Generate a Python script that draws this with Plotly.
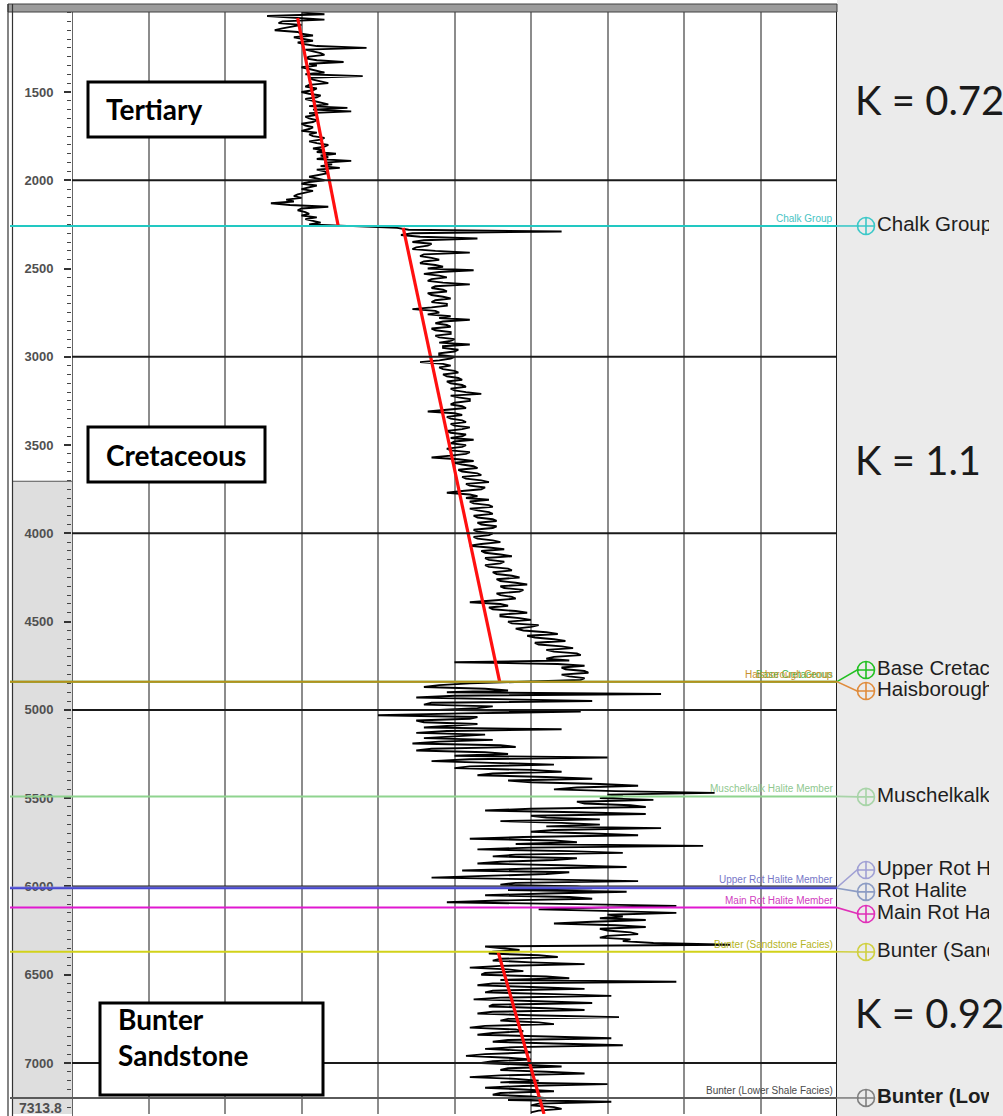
import plotly.graph_objects as go

W, H = 1003, 1116

# ---------------- data ----------------
DEPTH_TOP = 1047
DEPTH_BOTTOM = 7289
TD_LABEL = "7313.8"
MAJOR_DEPTH_LINES = [2000, 3000, 4000, 5000, 6000, 7000]
DEPTH_SHADE_TOP = 3705

LOG_STEP = 10
# Tertiary section, from 1050 m
LOG_A_TOP = 1050
LOG_A = [3.0, 3.3, 2.55, 2.9, 3.3, 2.75, 2.7, 3.0, 2.85, 2.75,
         2.65, 2.95, 3.0, 3.15, 2.9, 3.05, 3.15, 2.95, 3.05, 3.2,
         3.85, 3.05, 3.15, 3.25, 3.3, 3.1, 3.05, 3.2, 3.55, 3.1,
         3.2, 3.0, 3.1, 3.2, 3.3, 3.05, 3.8, 3.1, 3.15, 3.25,
         3.35, 3.1, 3.05, 3.2, 3.15, 3.0, 3.1, 3.25, 3.2, 3.05,
         3.15, 3.25, 3.35, 3.1, 3.6, 3.15, 3.65, 3.1, 3.2, 3.05,
         3.1, 3.2, 3.15, 3.0, 3.05, 3.15, 3.1, 3.0, 3.2, 3.1,
         3.15, 3.3, 3.25, 3.1, 3.2, 3.35, 3.3, 3.15, 3.3, 3.2,
         3.45, 3.25, 3.35, 3.2, 3.65, 3.3, 3.4, 3.25, 3.5, 3.2,
         3.3, 3.35, 3.2, 3.1, 3.2, 3.3, 3.1, 3.0, 3.2, 3.1,
         3.0, 3.15, 3.05, 2.95, 2.9, 3.0, 2.8, 2.9, 2.6, 2.85,
         3.35, 3.0, 2.95, 3.05, 3.1, 3.0, 3.2, 3.05, 3.15, 3.25,
         3.1]
# Cretaceous section, from 2270 m
LOG_B_TOP = 2270
LOG_B = [4.25, 4.4, 6.4, 4.45, 4.3, 4.55, 5.3, 4.6, 4.45, 4.7,
         4.65, 4.5, 4.45, 4.75, 5.2, 4.6, 4.55, 4.7, 4.8, 4.6,
         4.55, 4.75, 4.85, 4.65, 5.25, 4.8, 4.6, 4.8, 4.9, 4.7,
         4.65, 4.85, 5.2, 4.75, 4.7, 4.85, 4.9, 4.65, 4.7, 4.85,
         4.95, 4.75, 4.7, 4.9, 4.9, 4.7, 4.45, 4.75, 4.8, 4.65,
         4.95, 4.8, 5.2, 4.85, 4.75, 4.9, 4.95, 4.7, 4.75, 4.95,
         4.95, 4.75, 4.8, 5.0, 4.95, 4.8, 5.2, 4.85, 4.85, 5.05,
         5.0, 4.8, 4.8, 5.0, 4.95, 4.8, 4.55, 4.85, 4.95, 4.8,
         4.85, 5.0, 5.05, 4.85, 4.9, 5.05, 5.1, 4.9, 4.95, 5.1,
         5.15, 4.95, 5.0, 5.15, 5.35, 4.95, 5.05, 5.2, 5.2, 5.0,
         4.95, 5.1, 5.15, 4.9, 4.65, 5.0, 5.1, 4.9, 4.95, 5.1,
         5.15, 4.95, 5.0, 5.2, 5.1, 4.9, 4.95, 5.15, 5.1, 4.95,
         5.25, 5.0, 4.95, 5.15, 5.1, 4.9, 4.95, 5.2, 5.15, 4.95,
         4.7, 5.05, 5.25, 5.0, 5.1, 5.25, 5.3, 5.05, 5.1, 5.3,
         5.35, 5.1, 5.15, 5.35, 5.45, 5.15, 5.2, 5.4, 5.35, 5.1,
         4.9, 5.2, 5.3, 5.15, 5.45, 5.2, 5.25, 5.45, 5.5, 5.2,
         5.3, 5.45, 5.5, 5.25, 5.3, 5.5, 5.55, 5.3, 5.35, 5.55,
         5.5, 5.25, 5.3, 5.5, 5.45, 5.25, 5.3, 5.5, 5.6, 5.35,
         5.2, 5.45, 5.65, 5.35, 5.4, 5.6, 5.75, 5.4, 5.45, 5.65,
         5.6, 5.4, 5.45, 5.7, 5.75, 5.5, 5.55, 5.75, 5.85, 5.55,
         5.6, 5.8, 5.95, 5.6, 5.65, 5.9, 5.85, 5.55, 5.6, 5.75,
         5.8, 5.5, 5.2, 5.6, 5.7, 5.45, 5.5, 5.8, 5.95, 5.6,
         5.6, 5.85, 6.0, 5.7, 5.75, 6.1, 6.0, 5.8, 5.9, 6.2,
         6.35, 5.95, 6.05, 6.3, 6.45, 6.05, 6.1, 6.4, 6.55, 6.2,
         6.3, 6.6, 6.65, 6.3, 6.2, 6.5, 5.0, 6.35, 6.7, 6.4,
         6.45, 6.7, 6.75, 6.4, 6.5, 6.7, 6.65]
# Triassic (Haisborough to Rot Halite), from 4850 m
LOG_C_TOP = 4850
LOG_C = [5.2, 4.8, 4.6, 5.4, 5.7, 4.9, 7.7, 5.0, 4.5, 5.6,
         6.8, 4.7, 4.6, 5.5, 5.3, 4.8, 6.65, 5.1, 4.0, 5.3,
         5.2, 4.5, 4.6, 5.3, 5.0, 4.6, 6.4, 4.9, 4.5, 5.4,
         5.0, 4.6, 5.5, 4.8, 4.45, 5.6, 5.8, 4.7, 4.5, 5.4,
         5.7, 5.0, 7.0, 5.2, 4.7, 5.6, 6.3, 5.2, 5.0, 6.0,
         6.4, 5.5, 5.3, 6.2, 6.8, 5.7, 6.0, 6.9, 7.4, 6.6,
         6.3, 7.1, 8.4, 7.0, 7.2, 6.9, 7.6, 6.6, 6.7, 7.3,
         7.5, 6.0, 5.4, 6.6, 7.5, 6.0, 6.2, 6.9, 5.6, 6.4,
         6.9, 6.2, 7.7, 6.3, 6.0, 6.8, 7.4, 5.9, 5.2, 6.3,
         6.6, 5.8, 8.25, 6.0, 5.3, 6.5, 7.2, 5.8, 5.5, 6.6,
         6.3, 5.6, 5.3, 6.4, 7.25, 5.9, 5.1, 6.5, 6.2, 5.4,
         4.7, 6.1, 7.4, 5.8, 5.6, 6.6, 6.8, 5.7, 7.25, 6.2,
         5.4, 6.5, 6.8, 5.6, 4.9, 6.6, 7.9, 6.9, 6.1, 7.1,
         7.9, 7.0, 7.2, 6.9, 7.5, 6.8, 6.3, 7.1, 7.5, 6.9,
         7.0, 7.3, 7.4, 7.0, 6.9, 7.3, 7.2, 7.6, 8.6]
# Bunter Sandstone, from 6340 m
LOG_D_TOP = 6340
LOG_D = [5.4, 5.6, 5.85, 5.5, 5.45, 6.1, 6.35, 5.6, 5.5, 6.0,
         6.7, 5.6, 5.2, 5.7, 5.9, 5.4, 5.35, 6.2, 6.5, 5.6,
         7.9, 5.5, 5.3, 6.0, 6.7, 5.5, 5.4, 6.3, 7.05, 5.6,
         5.25, 6.1, 6.8, 5.5, 5.45, 6.2, 6.7, 5.5, 5.3, 6.0,
         7.15, 5.7, 5.6, 6.1, 6.3, 5.4, 5.2, 5.8, 5.9, 5.5,
         5.3, 6.2, 7.05, 5.7, 5.5, 6.3, 7.2, 5.8, 5.4, 5.9,
         6.0, 5.4, 5.15, 5.7, 6.0, 5.5, 5.35, 5.9, 6.4, 5.7,
         5.6, 6.2, 6.7, 5.6, 5.2, 5.8, 6.1, 5.6, 7.0, 5.9,
         5.4, 5.9, 6.3, 5.6, 5.5, 6.0, 6.2, 5.7, 7.05, 6.1,
         6.0, 6.3, 6.4, 6.1, 6.0]

TREND_DEPTHS = [[1081, 2259], [2270, 4840], [6370, 7289]]
TREND_VALUES = [[2.95, 3.48], [4.33, 5.59], [5.57, 6.17]]
UNIT_NAMES = ["Tertiary", "Cretaceous", "Bunter<br>Sandstone"]
K_LABELS = ["K = 0.72", "K = 1.1", "K = 0.92"]

TOP_NAMES = ["Chalk Group", "Base Cretaceous", "Haisborough Group",
             "Muschelkalk Halite Member", "Upper Rot Halite Member", "Rot Halite",
             "Main Rot Halite Member", "Bunter (Sandstone Facies)",
             "Bunter (Lower Shale Facies)"]
TOP_DEPTHS = [2259, 4840, 4840, 5490, 6006, 6010, 6120, 6370, 7198]
TOP_LABEL_DEPTHS = [2259, 4774, 4893, 5493, 5907, 6031, 6156, 6371, 7198]
TOP_LINE_COLORS = ["#22c8c2", "#3cb43c", "#b8901c", "#8fd48f", "#8f8fe0",
                   "#4848d0", "#e018d0", "#d2d21a", "#5a5a5a"]
TOP_MARK_COLORS = ["#3cc8c8", "#22c022", "#e08c3c", "#a8d4a8", "#a0a0d4",
                   "#8c9cc4", "#e030b8", "#d0d040", "#808080"]
TOP_SMALL_COLORS = ["#48c4c4", "#48b448", "#c8902c", "#90c890", "#7878c8",
                    None, "#d040c0", "#b4b424", "#4a4a4a"]

# ---------------- helpers (layout positions) ----------------
def px(x):
    return x / W


def py(y):
    return 1 - y / H


def depths_for(top, values):
    return [top + i * LOG_STEP for i in range(len(values))]


log_depth = (depths_for(LOG_A_TOP, LOG_A) + depths_for(LOG_B_TOP, LOG_B)
             + depths_for(LOG_C_TOP, LOG_C) + depths_for(LOG_D_TOP, LOG_D))
log_value = LOG_A + LOG_B + LOG_C + LOG_D

fig = go.Figure()

fig.add_trace(go.Scatter(x=log_value, y=log_depth, mode="lines",
                         line=dict(color="black", width=1.9),
                         hoverinfo="skip", showlegend=False))

for d, v in zip(TREND_DEPTHS, TREND_VALUES):
    fig.add_trace(go.Scatter(x=v, y=d, mode="lines",
                             line=dict(color="#ff1010", width=3.2),
                             hoverinfo="skip", showlegend=False))

# right panel: connectors, markers, labels
for d, ld, c in zip(TOP_DEPTHS, TOP_LABEL_DEPTHS, TOP_MARK_COLORS):
    fig.add_trace(go.Scatter(x=[0, 20, 22], y=[d, ld, ld], mode="lines",
                             line=dict(color=c, width=1.6), xaxis="x2", yaxis="y",
                             hoverinfo="skip", showlegend=False))

fig.add_trace(go.Scatter(x=[29] * len(TOP_NAMES), y=TOP_LABEL_DEPTHS, mode="markers",
                         marker=dict(symbol="circle-cross-open", size=17,
                                     color=TOP_MARK_COLORS, line=dict(width=1.6)),
                         xaxis="x2", yaxis="y", hoverinfo="skip", showlegend=False))

panel_text = [n if i < len(TOP_NAMES) - 1 else "<b>" + n + "</b>"
              for i, n in enumerate(TOP_NAMES)]
fig.add_trace(go.Scatter(x=[40] * len(TOP_NAMES), y=TOP_LABEL_DEPTHS, mode="text",
                         text=panel_text, textposition="middle right",
                         textfont=dict(family="Liberation Sans, Arial", size=20.5,
                                       color="#1e1e1e"),
                         cliponaxis=True, xaxis="x2", yaxis="y",
                         hoverinfo="skip", showlegend=False))

shapes = []
# right panel background
shapes.append(dict(type="rect", xref="paper", yref="paper", x0=px(837), x1=1,
                   y0=0, y1=1, fillcolor="#ebebeb", line=dict(width=0), layer="below"))
# depth track shading
shapes.append(dict(type="rect", xref="paper", yref="y", x0=px(12.5), x1=px(72),
                   y0=DEPTH_SHADE_TOP, y1=DEPTH_BOTTOM, fillcolor="#dedede",
                   line=dict(width=0), layer="below"))
shapes.append(dict(type="line", xref="paper", yref="y", x0=px(12.5), x1=px(72),
                   y0=DEPTH_SHADE_TOP, y1=DEPTH_SHADE_TOP,
                   line=dict(color="#555", width=1.2)))
# header band
shapes.append(dict(type="rect", xref="paper", yref="paper", x0=px(8), x1=px(837),
                   y0=py(12), y1=py(4), fillcolor="#9c9c9c",
                   line=dict(color="#404040", width=1)))
# left borders
for xx in (8, 12.5):
    shapes.append(dict(type="line", xref="paper", yref="paper", x0=px(xx), x1=px(xx),
                       y0=0, y1=py(4), line=dict(color="#333", width=1.2)))
# track borders
shapes.append(dict(type="line", xref="x", yref="paper", x0=0, x1=0, y0=0, y1=py(12),
                   line=dict(color="#333", width=1.5)))
shapes.append(dict(type="line", xref="x", yref="paper", x0=10, x1=10, y0=0, y1=py(12),
                   line=dict(color="#222", width=2)))
# major depth lines
for d in MAJOR_DEPTH_LINES:
    shapes.append(dict(type="line", xref="x", yref="y", x0=0, x1=10, y0=d, y1=d,
                       line=dict(color="#1a1a1a", width=2)))
# formation tops
for d, c in zip(TOP_DEPTHS, TOP_LINE_COLORS):
    shapes.append(dict(type="line", xref="paper", yref="y", x0=px(10), x1=px(837),
                       y0=d, y1=d, line=dict(color=c, width=2)))
# unit boxes
BOXES = [(88, 265, 82, 137), (88, 265, 427, 482), (100, 323, 1003, 1095)]
for x0, x1, y0, y1 in BOXES:
    shapes.append(dict(type="rect", xref="paper", yref="paper", x0=px(x0), x1=px(x1),
                       y0=py(y1), y1=py(y0), fillcolor="white",
                       line=dict(color="black", width=3)))

annotations = []
annotations.append(dict(text=TD_LABEL, xref="paper", yref="paper", x=px(40), y=py(1108),
                        showarrow=False, xanchor="center", yanchor="middle",
                        font=dict(family="Liberation Sans, Arial", size=14,
                                  color="#505050", weight="bold")))
for n, d, c in zip(TOP_NAMES, TOP_DEPTHS, TOP_SMALL_COLORS):
    if c is None:
        continue
    annotations.append(dict(text=n, xref="x", yref="y", x=10, y=d, xanchor="right",
                            yanchor="bottom", xshift=-2, yshift=0, showarrow=False,
                            font=dict(family="Liberation Sans, Arial", size=10, color=c)))
K_Y = [100, 460, 1013]
for t, yy in zip(K_LABELS, K_Y):
    annotations.append(dict(text=t, xref="paper", yref="paper", x=px(853), y=py(yy),
                            xanchor="left", yanchor="middle", showarrow=False,
                            font=dict(family="Lato", size=40, color="#1a1a1a")))
UNIT_POS = [(104, 109), (104, 455), (116, 1037)]
for t, (xx, yy) in zip(UNIT_NAMES, UNIT_POS):
    annotations.append(dict(text=t, xref="paper", yref="paper", x=px(xx), y=py(yy),
                            xanchor="left", yanchor="middle", align="left",
                            showarrow=False,
                            font=dict(family="Lato", size=28, color="black",
                                      weight="bold")))

fig.update_layout(
    width=W, height=H, margin=dict(l=0, r=0, t=0, b=0),
    paper_bgcolor="white", plot_bgcolor="rgba(0,0,0,0)",
    showlegend=False, shapes=shapes, annotations=annotations,
    xaxis=dict(domain=[px(72), px(837)], range=[0, 10], dtick=1, tick0=0,
               showgrid=True, gridcolor="#8c8c8c", gridwidth=1.5,
               showticklabels=False, ticks="", zeroline=False, showline=False,
               fixedrange=True),
    xaxis2=dict(domain=[px(837), px(989)], range=[0, 152], visible=False,
                anchor="y", fixedrange=True),
    yaxis=dict(domain=[py(1114), py(12)], range=[DEPTH_BOTTOM, DEPTH_TOP],
               tick0=0, dtick=500, ticks="outside", ticklen=7, tickwidth=1.5,
               tickcolor="#333", showgrid=False, zeroline=False, showline=False,
               ticklabelstandoff=8,
               tickfont=dict(family="Liberation Sans, Arial", size=13,
                             color="#505050", weight="bold"),
               minor=dict(dtick=50, tick0=0, ticks="outside", ticklen=4,
                          tickcolor="#444", tickwidth=1),
               fixedrange=True),
)

fig.write_html("out.html", config={"displayModeBar": False},
               post_script="document.body.style.margin='0px';")
